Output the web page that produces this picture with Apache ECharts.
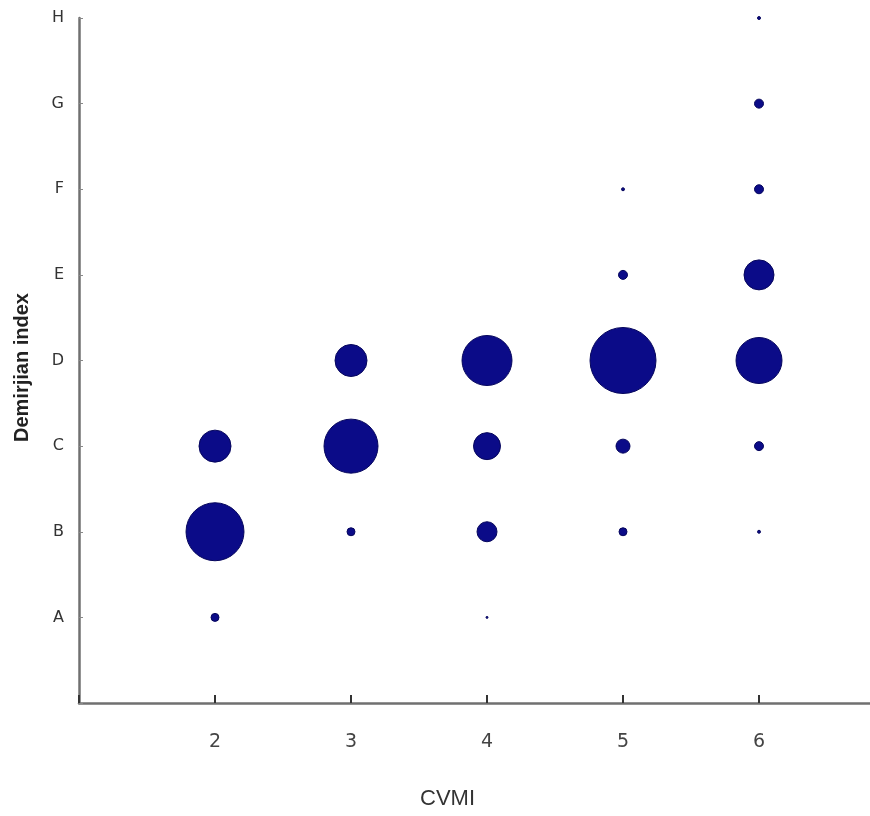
<!DOCTYPE html>
<html>
<head>
  <meta charset="utf-8">
  <style>
    html, body { margin: 0; padding: 0; background: #fff; }
  </style>
</head>
<body>
  <div id="main" style="width: 870px; height: 816px"></div>
</body>
<script src="https://cdn.jsdelivr.net/npm/echarts@6/dist/echarts.min.js"></script>
<script>
  // index categories (blank slot at the bottom)
  var stages = ['', 'A', 'B', 'C', 'D', 'E', 'F', 'G', 'H'];

  // one entry per bubble
  var cvmi   = [2, 2, 2, 3, 3, 3, 4, 4, 4, 4, 5, 5, 5, 5, 5, 6, 6, 6, 6, 6, 6, 6];
  var stage  = ['A', 'B', 'C', 'B', 'C', 'D', 'A', 'B', 'C', 'D', 'B', 'C', 'D', 'E', 'F', 'B', 'C', 'D', 'E', 'F', 'G', 'H'];
  var weight = [8, 58, 32, 8, 54, 32, 2, 20, 27, 50, 8, 14, 66, 9, 3, 3, 9, 46, 30, 9, 9, 3];

  var xTicks = [2, 3, 4, 5, 6];

  var points = cvmi.map(function(x, i) {
    return [x, stage[i], weight[i]];
  });

  var myChart = echarts.init(document.getElementById('main'));
  myChart.setOption({
    animation: false,
    grid: {
      left: 79,
      width: 816,
      top: 18,
      bottom: 113,
      outerBoundsMode: 'none'
    },
    xAxis: {
      type: 'value',
      min: 1,
      max: 7,
      interval: 1,
      splitLine: { show: false },
      axisLine: { show: true, lineStyle: { color: '#707070', width: 2.5 } },
      axisTick: {
        show: true, inside: true, length: 8,
        lineStyle: { color: '#333', width: 2 }
      },
      axisLabel: {
        margin: 30,
        fontSize: 19,
        color: '#444',
        fontFamily: 'DejaVu Sans',
        formatter: function(v) {
          return xTicks.indexOf(v) >= 0 ? String(v) : '';
        }
      }
    },
    yAxis: {
      type: 'category',
      data: stages,
      boundaryGap: false,
      splitLine: { show: false },
      axisLine: { show: true, lineStyle: { color: '#707070', width: 2.5 } },
      axisTick: { show: true, inside: true, length: 4, lineStyle: { color: '#888' } },
      axisLabel: {
        margin: 15,
        fontSize: 16,
        color: '#333',
        fontFamily: 'DejaVu Sans'
      }
    },
    graphic: [{
      type: 'text',
      left: 420,
      top: 788,
      style: {
        text: 'CVMI',
        font: '22px "Liberation Sans"',
        fill: '#333'
      }
    }, {
      type: 'text',
      x: 12,
      y: 442,
      rotation: Math.PI / 2,
      style: {
        text: 'Demirjian index',
        font: 'bold 20px "Liberation Sans"',
        fill: '#222'
      }
    }],
    series: [{
      type: 'scatter',
      data: points,
      symbolSize: function(d) { return d[2]; },
      itemStyle: {
        color: '#0b0b88',
        borderColor: '#06065c',
        borderWidth: 1,
        opacity: 1
      }
    }]
  });
</script>
</html>
